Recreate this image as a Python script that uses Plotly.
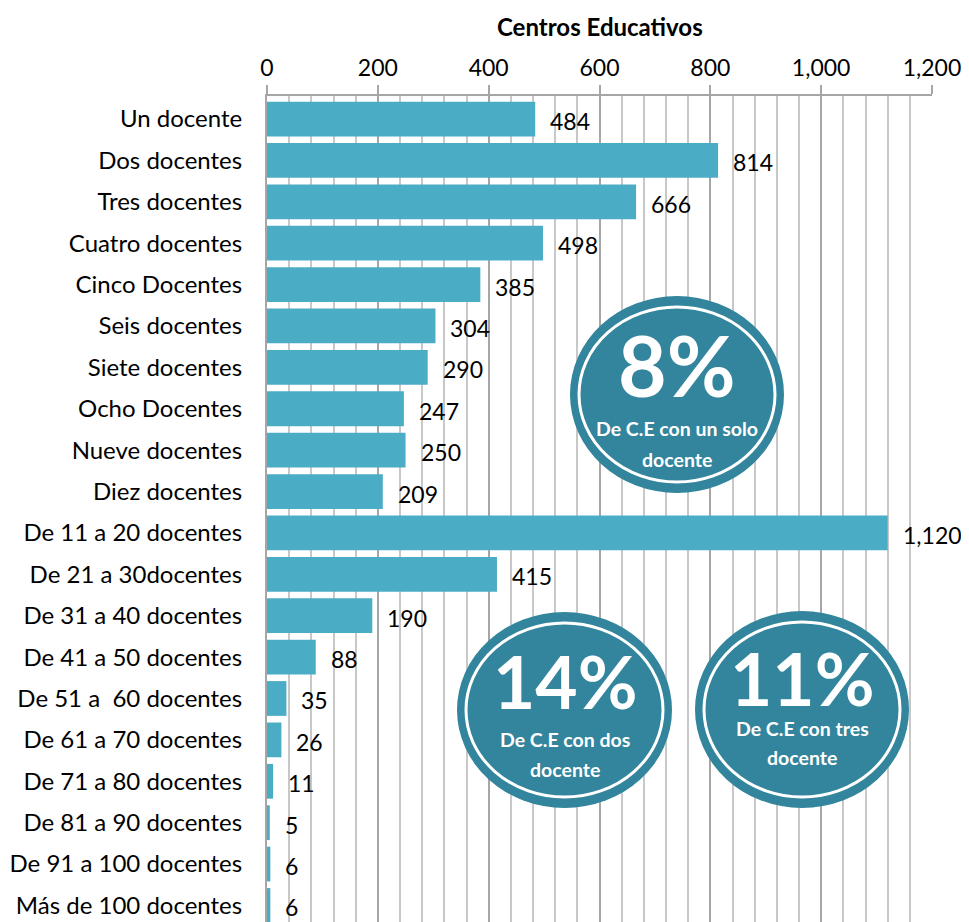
import plotly.graph_objects as go

categories = ["Un docente", "Dos docentes", "Tres docentes", "Cuatro docentes", "Cinco Docentes",
              "Seis docentes", "Siete docentes", "Ocho Docentes", "Nueve docentes", "Diez docentes",
              "De 11 a 20 docentes", "De 21 a 30docentes", "De 31 a 40 docentes", "De 41 a 50 docentes",
              "De 51 a \u00a060 docentes", "De 61 a 70 docentes", "De 71 a 80 docentes", "De 81 a 90 docentes",
              "De 91 a 100 docentes", "Más de 100 docentes"]
values = [484, 814, 666, 498, 385, 304, 290, 247, 250, 209, 1120, 415, 190, 88, 35, 26, 11, 5, 6, 6]
x_ticks = [0, 200, 400, 600, 800, 1000, 1200]
axis_title = "Centros Educativos"

badges = [
    ("8%", "De C.E con un solo", "docente"),
    ("14%", "De C.E con dos", "docente"),
    ("11%", "De C.E con tres", "docente"),
]

# page body has an 8px default margin: the figure is drawn at (8, 8) in the window
OX, OY = 8, 8
W, H = 969 - OX, 922 - OY
ML, MR, MT, MB = 267 - OX, 37, 96 - OY, 0
PW = W - ML - MR
PH = H - MT - MB

def px(x):
    return (x - OX - ML) / PW

def py(y):
    return (H - (y - OY)) / PH

FONT = "Lato"
BAR = "#4BACC6"
TEAL = "#32859C"
FS = 24

fig = go.Figure()
fig.add_trace(go.Bar(
    x=values, y=categories, orientation="h",
    marker=dict(color=BAR, line=dict(width=0)),
    width=0.84, hoverinfo="x+y",
))

annotations = []
for c, v in zip(categories, values):
    annotations.append(dict(
        x=v, y=c, xref="x", yref="y", text=f"{v:,}", showarrow=False,
        xanchor="left", yanchor="middle", xshift=13, yshift=-2,
        font=dict(family=FONT, size=FS - 1, color="#000000"),
    ))

# badge geometry (window pixels): left, right, top, bottom, text x, big y, line1 y, line2 y, big size
boxes = [
    (570, 784, 296, 493, 677, 365, 428, 459, 84),
    (457, 672, 612, 808, 565, 681, 739, 769, 73),
    (695, 909, 611, 808, 802, 678, 728, 757, 73),
]
shapes = []
for (big, l1, l2), (x0, x1, y0, y1, cx, by, t1, t2, bs) in zip(badges, boxes):
    shapes.append(dict(type="circle", xref="paper", yref="paper",
                       x0=px(x0), x1=px(x1), y0=py(y1), y1=py(y0),
                       fillcolor=TEAL, line=dict(width=0), layer="above"))
    shapes.append(dict(type="circle", xref="paper", yref="paper",
                       x0=px(x0 + 9), x1=px(x1 - 9), y0=py(y1 - 11), y1=py(y0 + 11),
                       fillcolor="rgba(0,0,0,0)", line=dict(width=3, color="white"), layer="above"))
    annotations.append(dict(x=px(cx), y=py(by), xref="paper", yref="paper", text=f"<b>{big}</b>",
                            showarrow=False, xanchor="center", yanchor="middle",
                            font=dict(family=FONT, size=bs, color="white")))
    annotations.append(dict(x=px(cx), y=py(t1), xref="paper", yref="paper", text=f"<b>{l1}</b>",
                            showarrow=False, xanchor="center", yanchor="middle",
                            font=dict(family=FONT, size=19.5, color="white")))
    annotations.append(dict(x=px(cx), y=py(t2), xref="paper", yref="paper", text=f"<b>{l2}</b>",
                            showarrow=False, xanchor="center", yanchor="middle",
                            font=dict(family=FONT, size=19.5, color="white")))

annotations.append(dict(x=px(600), y=py(27), xref="paper", yref="paper", text=f"<b>{axis_title}</b>",
                        showarrow=False, xanchor="center", yanchor="middle",
                        font=dict(family=FONT, size=24, color="#000000")))

fig.update_layout(
    width=W, height=H,
    margin=dict(l=ML, r=MR, t=MT, b=MB, pad=0, autoexpand=False),
    paper_bgcolor="white", plot_bgcolor="white",
    showlegend=False,
    font=dict(family=FONT, size=FS, color="#000000"),
    annotations=annotations,
    shapes=shapes,
    bargap=0.16,
)
fig.update_xaxes(
    side="top", range=[0, 1200], tickvals=x_ticks, ticktext=[f"{t:,}" for t in x_ticks],
    showgrid=True, gridcolor="#A6A6A6", gridwidth=1.5,
    minor=dict(dtick=40, tick0=0, showgrid=True, gridcolor="#C8C8C8", gridwidth=1.5),
    showline=True, linecolor="#A6A6A6", linewidth=2,
    ticks="outside", ticklen=9, tickcolor="#A6A6A6", tickwidth=2,
    tickfont=dict(family=FONT, size=FS - 1, color="#000000"),
    zeroline=False, fixedrange=True, automargin=False,
)
fig.update_yaxes(
    type="category", range=[19.40, -0.556],
    showgrid=False, showline=True, linecolor="#A6A6A6", linewidth=2,
    ticks="outside", ticklen=18, tickcolor="rgba(0,0,0,0)",
    tickfont=dict(family=FONT, size=FS, color="#000000"),
    zeroline=False, fixedrange=True, automargin=False,
)

fig.write_html("out.html")
